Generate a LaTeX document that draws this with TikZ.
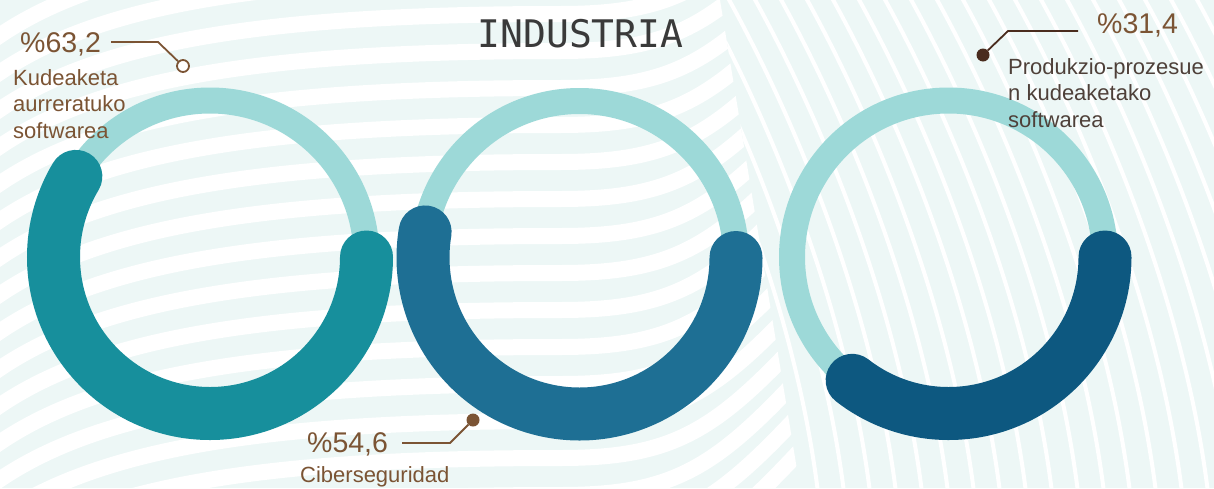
\documentclass[tikz,border=0pt]{standalone}
\usepackage{fontspec}
\setmainfont{Liberation Sans}
\newfontfamily\titlefont{DejaVu Sans Mono}

\definecolor{mint}{HTML}{EDF7F6}
\definecolor{ringlight}{HTML}{9DD9D8}
\definecolor{tealA}{HTML}{178F9C}
\definecolor{blueB}{HTML}{1E6F94}
\definecolor{navyC}{HTML}{0D5880}
\definecolor{labelbrown}{HTML}{7B5434}
\definecolor{darkbrown}{HTML}{4A2C1E}
\definecolor{labelgrey}{HTML}{4E4039}
\definecolor{titlegrey}{HTML}{3A3A3A}

\tikzset{
  thinring/.style={ringlight, line width=26pt},
  thickring/.style={line width=53pt, line cap=round},
  pct/.style={anchor=base west, inner sep=0pt, text=labelbrown, font=\fontsize{28.5}{30}\selectfont},
  lbl/.style={anchor=base west, inner sep=0pt, align=left, text=labelbrown, font=\fontsize{22}{26.5}\selectfont},
  leader/.style={labelbrown, line width=1.8pt},
  dotfull/.style={circle, fill=labelbrown, inner sep=0pt, minimum size=13pt},
}

\begin{document}
\begin{tikzpicture}[x=1pt, y=-1pt]
  \useasboundingbox (0,0) rectangle (1214,488);

  % background waves
  \fill[mint] (0,0) rectangle (1214,488);
  \begin{scope}
    \clip (0,0) -- (720,0) -- (800,488) -- (0,488) -- cycle;
    \foreach \y in {-60,-23,...,600}
      \draw[white, line width=16pt] (-20,\y+110) .. controls (80,\y+30) and (250,\y) .. (560,\y) .. controls (680,\y) and (720,\y-30) .. (820,\y-140);
  \end{scope}
  \begin{scope}
    \clip (720,0) -- (1214,0) -- (1214,488) -- (800,488) -- cycle;
    \foreach \x in {640,666,...,1300}
      \draw[white, line width=4pt] (\x,-20) .. controls (\x+80,120) and (\x+160,320) .. (\x+180,510);
  \end{scope}

  \node[anchor=base, inner sep=0pt, text=titlegrey, font=\titlefont\fontsize{38}{40}\selectfont] (title) at (580.5,47) {INDUSTRIA};

  % rings
  \coordinate (ringA) at (210,257);
  \coordinate (ringB) at (579.5,257.5);
  \coordinate (ringC) at (948.5,257);
  \foreach \c in {ringA,ringB,ringC}
    \draw[thinring] (\c) circle[radius=156.5];
  \draw[thickring, tealA] ([shift={(0:156.5)}]ringA) arc[start angle=0, end angle=211, radius=156.5];
  \draw[thickring, blueB] ([shift={(0:156.5)}]ringB) arc[start angle=0, end angle=189.4, radius=156.5];
  \draw[thickring, navyC] ([shift={(0:156.5)}]ringC) arc[start angle=0, end angle=128, radius=156.5];

  % labels
  \node[pct] (pctA) at (20,52) {\%63,2};
  \node[lbl] (txtA) at (13,138) {Kudeaketa\\aurreratuko\\softwarea};
  \node[circle, draw=labelbrown, line width=1.8pt, fill=white, inner sep=0pt, minimum size=12pt] (dotA) at (183,66) {};
  \coordinate (legA1) at (111,42);
  \coordinate (legA2) at (158,42);
  \draw[leader] (legA1) -- (legA2) -- (dotA);

  \node[pct] (pctB) at (307,452) {\%54,6};
  \node[lbl] (txtB) at (300,482) {Ciberseguridad};
  \node[dotfull] (dotB) at (473,420) {};
  \coordinate (legB1) at (402,443);
  \coordinate (legB2) at (450,443);
  \draw[leader] (legB1) -- (legB2) -- (dotB);

  \node[pct] (pctC) at (1097,33) {\%31,4};
  \node[lbl, text=labelgrey] (txtC) at (1008,127) {Produkzio-prozesue\\n kudeaketako\\softwarea};
  \node[dotfull, fill=darkbrown] (dotC) at (983,55) {};
  \coordinate (legC1) at (1078,31);
  \coordinate (legC2) at (1008,31);
  \draw[leader, darkbrown] (legC1) -- (legC2) -- (dotC);
\end{tikzpicture}
\end{document}
